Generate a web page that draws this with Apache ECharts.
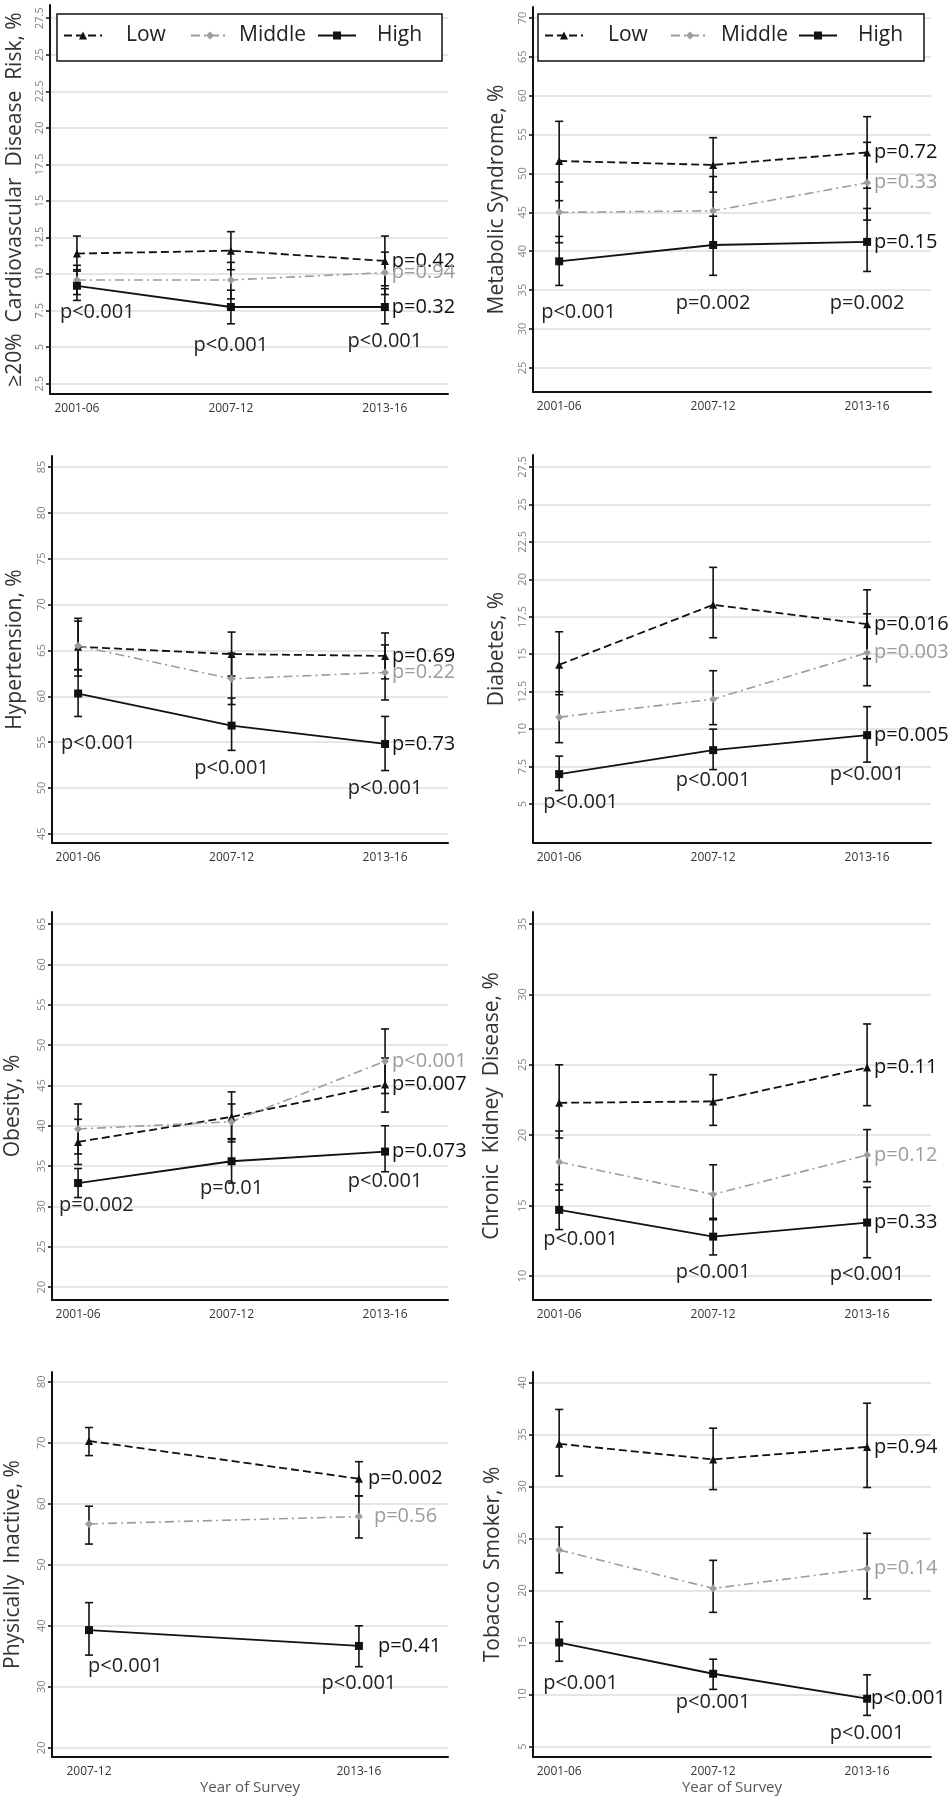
<!DOCTYPE html>
<html><head><meta charset="utf-8">
<script src="https://cdn.jsdelivr.net/npm/echarts@6/dist/echarts.min.js"></script>
<style>html,body{margin:0;padding:0;background:#fff}#c{width:951px;height:1800px}</style>
</head><body><div id="c"></div>
<script>
// ---------- categories ----------
const cats3 = ['2001-06', '2007-12', '2013-16'];
const cats2 = ['2007-12', '2013-16'];
const groups = ['Low', 'Middle', 'High'];

// ---------- Panel 1: >=20% CVD risk ----------
const cvdTicks = [2.5, 5, 7.5, 10, 12.5, 15, 17.5, 20, 22.5, 25, 27.5];
const cvdLow = [11.4, 11.6, 10.9];
const cvdLowCI = [[10.2, 12.6], [10.3, 12.9], [9.2, 12.6]];
const cvdMid = [9.6, 9.6, 10.1];
const cvdMidCI = [[8.6, 10.6], [8.3, 10.8], [8.6, 11.5]];
const cvdHigh = [9.2, 7.75, 7.75];
const cvdHighCI = [[8.2, 10.3], [6.6, 8.9], [6.6, 9.0]];
const cvdPGroup = ['p=0.42', 'p=0.94', 'p=0.32'];
const cvdPTrend = ['p<0.001', 'p<0.001', 'p<0.001'];

// ---------- Panel 2: Metabolic syndrome ----------
const metsTicks = [25, 30, 35, 40, 45, 50, 55, 60, 65, 70];
const metsLow = [51.6, 51.1, 52.7];
const metsLowCI = [[46.5, 56.7], [47.6, 54.6], [48.1, 57.3]];
const metsMid = [45.0, 45.2, 48.8];
const metsMidCI = [[41.1, 48.9], [40.8, 49.6], [44.0, 54.0]];
const metsHigh = [38.7, 40.8, 41.2];
const metsHighCI = [[35.6, 41.9], [36.9, 44.5], [37.4, 45.5]];
const metsPGroup = ['p=0.72', 'p=0.33', 'p=0.15'];
const metsPTrend = ['p<0.001', 'p=0.002', 'p=0.002'];

// ---------- Panel 3: Hypertension ----------
const htnTicks = [45, 50, 55, 60, 65, 70, 75, 80, 85];
const htnLow = [65.4, 64.6, 64.4];
const htnLowCI = [[62.2, 68.5], [62.2, 67.0], [61.9, 66.9]];
const htnMid = [65.5, 61.9, 62.6];
const htnMidCI = [[62.9, 68.2], [59.1, 64.7], [59.6, 65.6]];
const htnHigh = [60.3, 56.8, 54.8];
const htnHighCI = [[57.8, 62.9], [54.1, 59.8], [51.9, 57.8]];
const htnPGroup = ['p=0.69', 'p=0.22', 'p=0.73'];
const htnPTrend = ['p<0.001', 'p<0.001', 'p<0.001'];

// ---------- Panel 4: Diabetes ----------
const dmTicks = [5, 7.5, 10, 12.5, 15, 17.5, 20, 22.5, 25, 27.5];
const dmLow = [14.3, 18.3, 17.0];
const dmLowCI = [[12.3, 16.5], [16.1, 20.8], [14.7, 19.3]];
const dmMid = [10.8, 12.0, 15.1];
const dmMidCI = [[9.1, 12.5], [10.3, 13.9], [12.9, 17.7]];
const dmHigh = [7.0, 8.6, 9.6];
const dmHighCI = [[5.9, 8.2], [7.3, 10.0], [7.8, 11.5]];
const dmPGroup = ['p=0.016', 'p=0.003', 'p=0.005'];
const dmPTrend = ['p<0.001', 'p<0.001', 'p<0.001'];

// ---------- Panel 5: Obesity ----------
const obTicks = [20, 25, 30, 35, 40, 45, 50, 55, 60, 65];
const obLow = [38.0, 41.1, 45.1];
const obLowCI = [[35.2, 40.8], [38.0, 44.2], [41.7, 48.4]];
const obMid = [39.6, 40.5, 48.0];
const obMidCI = [[36.5, 42.7], [38.4, 42.7], [44.0, 52.0]];
const obHigh = [32.9, 35.6, 36.8];
const obHighCI = [[31.1, 34.7], [32.9, 38.3], [34.3, 40.0]];
const obPGroup = ['p=0.007', 'p<0.001', 'p=0.073'];
const obPTrend = ['p=0.002', 'p=0.01', 'p<0.001'];

// ---------- Panel 6: Chronic kidney disease ----------
const ckdTicks = [10, 15, 20, 25, 30, 35];
const ckdLow = [22.3, 22.4, 24.8];
const ckdLowCI = [[19.8, 25.0], [20.7, 24.3], [22.1, 27.9]];
const ckdMid = [18.1, 15.8, 18.6];
const ckdMidCI = [[16.1, 20.3], [14.1, 17.9], [16.7, 20.4]];
const ckdHigh = [14.7, 12.8, 13.8];
const ckdHighCI = [[13.3, 16.5], [11.5, 14.0], [11.3, 16.3]];
const ckdPGroup = ['p=0.11', 'p=0.12', 'p=0.33'];
const ckdPTrend = ['p<0.001', 'p<0.001', 'p<0.001'];

// ---------- Panel 7: Physically inactive ----------
const paTicks = [20, 30, 40, 50, 60, 70, 80];
const paLow = [70.3, 64.1];
const paLowCI = [[67.9, 72.5], [61.3, 66.9]];
const paMid = [56.7, 57.9];
const paMidCI = [[53.4, 59.6], [54.4, 61.3]];
const paHigh = [39.3, 36.7];
const paHighCI = [[35.2, 43.8], [33.3, 40.0]];
const paPGroup = ['p=0.002', 'p=0.56', 'p=0.41'];
const paPTrend = ['p<0.001', 'p<0.001'];

// ---------- Panel 8: Tobacco smoker ----------
const tobTicks = [5, 10, 15, 20, 25, 30, 35, 40];
const tobLow = [34.1, 32.6, 33.8];
const tobLowCI = [[31.0, 37.4], [29.7, 35.6], [29.9, 38.0]];
const tobMid = [23.9, 20.2, 22.1];
const tobMidCI = [[21.7, 26.1], [17.9, 22.9], [19.2, 25.5]];
const tobHigh = [15.0, 12.0, 9.6];
const tobHighCI = [[13.2, 17.0], [10.5, 13.4], [8.0, 11.9]];
const tobPGroup = ['p=0.94', 'p=0.14', 'p<0.001'];
const tobPTrend = ['p<0.001', 'p<0.001', 'p<0.001'];

// ---------- panel definitions ----------
const panels = [
  {title: '≥20%  Cardiovascular  Disease  Risk, %', cats: cats3, ticks: cvdTicks, vals: [cvdLow, cvdMid, cvdHigh], ci: [cvdLowCI, cvdMidCI, cvdHighCI], pGroup: cvdPGroup, pTrend: cvdPTrend},
  {title: 'Metabolic Syndrome, %', cats: cats3, ticks: metsTicks, vals: [metsLow, metsMid, metsHigh], ci: [metsLowCI, metsMidCI, metsHighCI], pGroup: metsPGroup, pTrend: metsPTrend},
  {title: 'Hypertension, %', cats: cats3, ticks: htnTicks, vals: [htnLow, htnMid, htnHigh], ci: [htnLowCI, htnMidCI, htnHighCI], pGroup: htnPGroup, pTrend: htnPTrend},
  {title: 'Diabetes, %', cats: cats3, ticks: dmTicks, vals: [dmLow, dmMid, dmHigh], ci: [dmLowCI, dmMidCI, dmHighCI], pGroup: dmPGroup, pTrend: dmPTrend},
  {title: 'Obesity, %', cats: cats3, ticks: obTicks, vals: [obLow, obMid, obHigh], ci: [obLowCI, obMidCI, obHighCI], pGroup: obPGroup, pTrend: obPTrend},
  {title: 'Chronic  Kidney  Disease, %', cats: cats3, ticks: ckdTicks, vals: [ckdLow, ckdMid, ckdHigh], ci: [ckdLowCI, ckdMidCI, ckdHighCI], pGroup: ckdPGroup, pTrend: ckdPTrend},
  {title: 'Physically  Inactive, %', cats: cats2, ticks: paTicks, vals: [paLow, paMid, paHigh], ci: [paLowCI, paMidCI, paHighCI], pGroup: paPGroup, pTrend: paPTrend},
  {title: 'Tobacco  Smoker, %', cats: cats3, ticks: tobTicks, vals: [tobLow, tobMid, tobHigh], ci: [tobLowCI, tobMidCI, tobHighCI], pGroup: tobPGroup, pTrend: tobPTrend}
];

// ---------- layout (pixels / axis ranges / annotation placement) ----------
const layout = [
  {left: 50, top: 5, right: 448, bottom: 394, yMin: 1.8, yMax: 28.4, xMin: 0.825, xMax: 3.41, nameGap: 24, firstOff: -17, trendY: [7.4, 5.1, 5.4], endGap: [3, 3, 3]},
  {left: 533, top: 7, right: 931, bottom: 392, yMin: 21.9, yMax: 71.4, xMin: 0.83, xMax: 3.415, nameGap: 25, firstOff: -18, trendY: [32.1, 33.3, 33.3], endGap: [3, 3, 3]},
  {left: 52, top: 456, right: 448, bottom: 843, yMin: 44, yMax: 86.2, xMin: 0.83, xMax: 3.41, nameGap: 26, firstOff: -17, trendY: [54.9, 52.1, 50.0], endGap: [3, 3, 3]},
  {left: 533, top: 455, right: 931, bottom: 843, yMin: 2.4, yMax: 28.3, xMin: 0.83, xMax: 3.415, nameGap: 25, firstOff: -16, trendY: [5.1, 6.6, 7.0], endGap: [3, 3, 3]},
  {left: 52, top: 912, right: 448, bottom: 1300, yMin: 18.4, yMax: 66.5, xMin: 0.83, xMax: 3.41, nameGap: 28, firstOff: -19, trendY: [30.1, 32.2, 33.1], endGap: [3, 3, 3]},
  {left: 533, top: 912, right: 931, bottom: 1300, yMin: 8.3, yMax: 35.85, xMin: 0.83, xMax: 3.415, nameGap: 30, firstOff: -16, trendY: [12.6, 10.3, 10.1], endGap: [3, 3, 3]},
  {left: 52, top: 1372, right: 448, bottom: 1757, yMin: 18.5, yMax: 81.6, xMin: 0.863, xMax: 2.33, nameGap: 28, firstOff: -1, trendY: [33.4, 30.5], endGap: [5, 11, 15]},
  {left: 533, top: 1372, right: 931, bottom: 1757, yMin: 4.0, yMax: 41, xMin: 0.83, xMax: 3.415, nameGap: 29, firstOff: -16, trendY: [11.1, 9.3, 6.3], endGap: [3, 3, 0]}
];

const FONT = 'Open Sans';
const groupStyle = {
  Low: {color: '#111', symbol: 'triangle', size: 8, type: [8, 4], width: 1.8, label: '#111'},
  Middle: {color: '#9c9c9c', symbol: 'diamond', size: 8, type: [9, 4, 2, 4], width: 1.6, label: '#9c9c9c'},
  High: {color: '#111', symbol: 'rect', size: 8, type: 'solid', width: 1.8, label: '#111'}
};

const legendLayout = [
  [{name: 'Low', left: 63, pad: 19}, {name: 'Middle', left: 190, pad: 5}, {name: 'High', left: 317, pad: 16}],
  [{name: 'Low', left: 544, pad: 20}, {name: 'Middle', left: 670, pad: 7}, {name: 'High', left: 798, pad: 16}]
];
const legendBoxes = [{x: 57, y: 14, w: 385, h: 47}, {x: 538, y: 14, w: 386, h: 47}];

const grids = [], xAxes = [], yAxes = [], series = [];

panels.forEach((p, gi) => {
  const L = layout[gi];
  grids.push({left: L.left, top: L.top, width: L.right - L.left, height: L.bottom - L.top, outerBoundsMode: 'none', containLabel: false});
  xAxes.push({
    type: 'value', gridIndex: gi, min: L.xMin, max: L.xMax,
    axisLine: {show: true, onZero: false, lineStyle: {color: '#111', width: 2}},
    axisTick: {show: false}, splitLine: {show: false},
    axisLabel: {customValues: p.cats.map((c, i) => i + 1), formatter: v => p.cats[Math.round(v) - 1], fontSize: 12, color: '#333', fontFamily: FONT, margin: 9},
    name: gi >= 6 ? 'Year of Survey' : '', nameLocation: 'middle', nameGap: 23,
    nameTextStyle: {fontSize: 15, color: '#555', fontFamily: FONT}
  });
  yAxes.push({
    type: 'value', gridIndex: gi, min: L.yMin, max: L.yMax,
    name: p.title, nameLocation: 'middle', nameGap: L.nameGap,
    nameTextStyle: {fontSize: 21, color: '#333', fontFamily: FONT},
    axisLine: {show: true, onZero: false, lineStyle: {color: '#111', width: 2}},
    axisTick: {show: true, length: 4, customValues: p.ticks, lineStyle: {color: '#111', width: 1.5}},
    axisLabel: {customValues: p.ticks, rotate: 90, fontSize: 11, color: '#808080', fontFamily: FONT, margin: 5, formatter: v => String(v)},
    splitLine: {show: true, lineStyle: {color: '#e6e6e6', width: 2}}
  });

  groups.forEach((g, k) => {
    const st = groupStyle[g];
    const vals = p.vals[k];
    const ci = p.ci[k];
    // error bars
    series.push({
      type: 'custom', xAxisIndex: gi, yAxisIndex: gi, silent: true, z: 3, animation: false,
      data: ci.map((c, i) => [i + 1, c[0], c[1]]),
      encode: {x: 0, y: [1, 2]},
      renderItem: (params, api) => {
        const x = api.value(0);
        const lo = api.coord([x, api.value(1)]);
        const hi = api.coord([x, api.value(2)]);
        const w = 4;
        const style = {stroke: '#111', lineWidth: 1.6};
        return {type: 'group', children: [
          {type: 'line', shape: {x1: lo[0], y1: lo[1], x2: hi[0], y2: hi[1]}, style},
          {type: 'line', shape: {x1: lo[0] - w, y1: lo[1], x2: lo[0] + w, y2: lo[1]}, style},
          {type: 'line', shape: {x1: hi[0] - w, y1: hi[1], x2: hi[0] + w, y2: hi[1]}, style}
        ]};
      }
    });
    // lines with group p-value on last point
    series.push({
      type: 'line', name: g, xAxisIndex: gi, yAxisIndex: gi, z: 4, animation: false,
      symbol: st.symbol, symbolSize: st.size, showAllSymbol: true,
      lineStyle: {color: st.color, width: st.width, type: st.type},
      itemStyle: {color: st.color},
      data: vals.map((v, i) => i === vals.length - 1
        ? {value: [i + 1, v], label: {show: true, position: 'right', distance: L.endGap[k], formatter: p.pGroup[k], color: st.label, fontSize: 20, fontFamily: FONT}}
        : {value: [i + 1, v]})
    });
  });

  // p for trend across groups (below each survey period)
  series.push({
    type: 'scatter', xAxisIndex: gi, yAxisIndex: gi, symbolSize: 0, silent: true, z: 5, animation: false,
    itemStyle: {opacity: 1},
    data: L.trendY.map((y, i) => i === 0
      ? {value: [i + 1, y], label: {align: 'left', offset: [L.firstOff, 0]}}
      : {value: [i + 1, y]}),
    label: {show: true, position: 'inside', formatter: prm => p.pTrend[prm.dataIndex], fontSize: 20, color: '#222', opacity: 1, fontFamily: FONT}
  });
});

const legends = [];
legendLayout.forEach((row, li) => {
  row.forEach(it => {
    legends.push({
      data: [it.name], left: it.left, top: 20, padding: [5, 0, 5, 0], selectedMode: false,
      itemWidth: 38, itemHeight: 10, itemGap: 0,
      textStyle: {fontSize: 21, color: '#222', fontFamily: FONT, padding: [0, 0, 0, it.pad]}
    });
  });
});

const graphics = legendBoxes.map(b => ({
  type: 'rect', z: 3, silent: true,
  shape: {x: b.x, y: b.y, width: b.w, height: b.h},
  style: {fill: '#fff', stroke: '#111', lineWidth: 1.5}
}));

const chart = echarts.init(document.getElementById('c'), null, {renderer: 'canvas'});
chart.setOption({
  backgroundColor: '#fff',
  animation: false,
  grid: grids, xAxis: xAxes, yAxis: yAxes,
  legend: legends,
  graphic: graphics,
  series: series
});
</script>
</body></html>
